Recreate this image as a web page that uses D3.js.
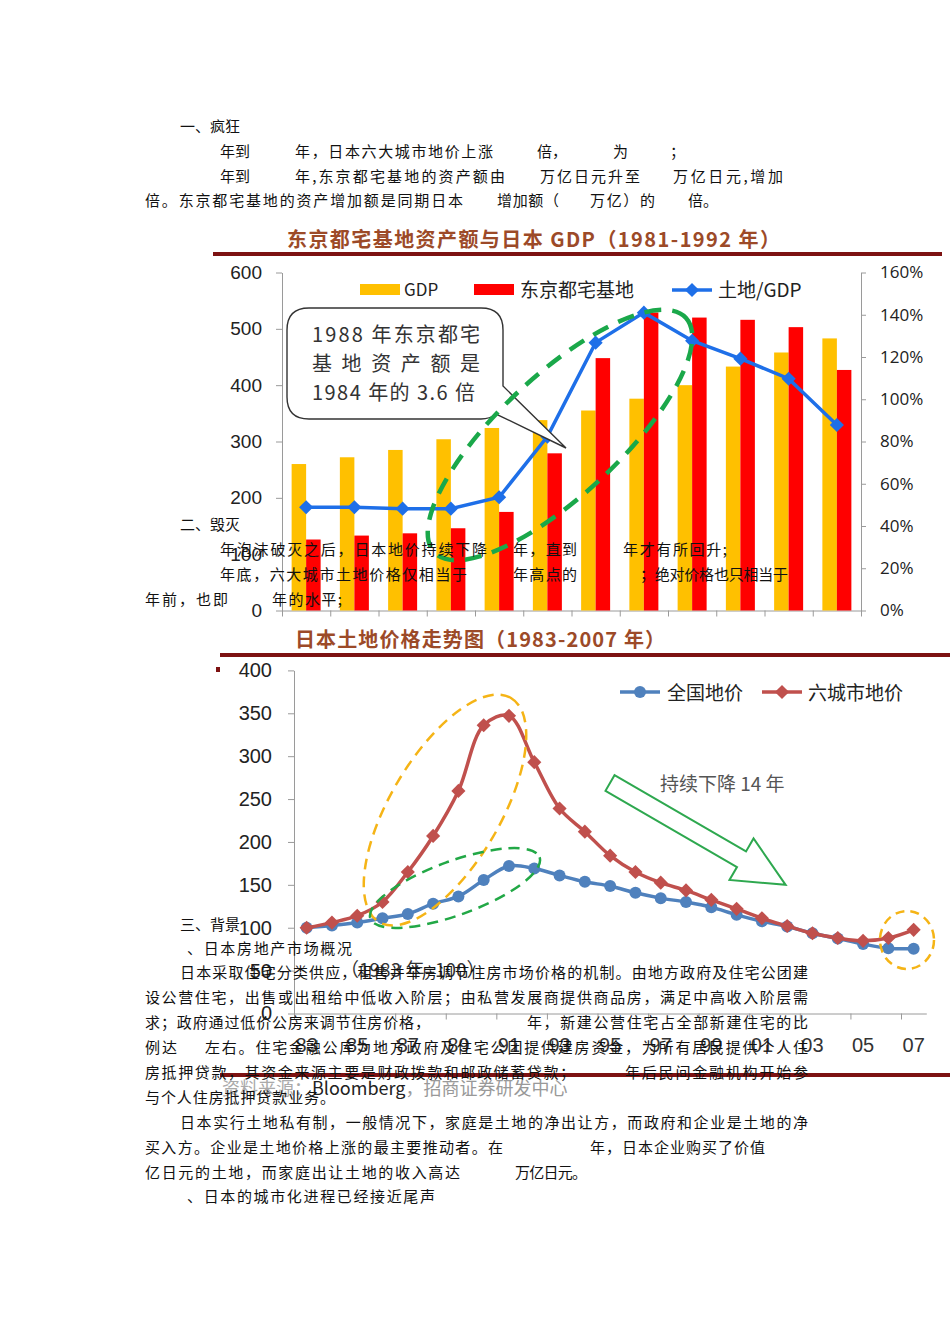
<!DOCTYPE html>
<html>
<head>
<meta charset="utf-8">
<script src="https://cdnjs.cloudflare.com/ajax/libs/d3/7.8.5/d3.min.js"></script>
<style>
  body { margin: 0; background: #fff; }
  svg { display: block; }
  .doc { font-family: "Noto Sans CJK SC", sans-serif; font-size: 15px; fill: #111; }
</style>
</head>
<body>
<div id="page"></div>
<script>
// chart 1 data: 东京都宅基地资产额与日本 GDP (1981-1992)
const years1 = ["1981", "1982", "1983", "1984", "1985", "1986", "1987", "1988", "1989", "1990", "1991", "1992"];
const gdp = [260, 272, 285, 304, 324, 338, 355, 376, 400, 433, 458, 483];
const tokyoLand = [126, 133, 137, 146, 175, 279, 448, 529, 520, 516, 503, 427];
const landGdp = [0.489, 0.489, 0.482, 0.482, 0.536, 0.823, 1.268, 1.41, 1.277, 1.192, 1.097, 0.878];
const leftTicks1 = [0, 100, 200, 300, 400, 500, 600];
const rightTicks1 = [0, 0.2, 0.4, 0.6, 0.8, 1.0, 1.2, 1.4, 1.6];

// chart 2 data: 日本土地价格走势图 (1983-2007), 1983 = 100
const years2 = ["83", "84", "85", "86", "87", "88", "89", "90", "91", "92", "93", "94", "95",
  "96", "97", "98", "99", "00", "01", "02", "03", "04", "05", "06", "07"];
const national = [100, 102.5, 106, 111, 116, 128, 136.5, 155.6, 172, 169, 161, 153.5, 148.6,
  140.7, 134.5, 130, 124, 115, 107.5, 101.5, 93.5, 87.5, 81, 76, 75.5];
const sixCities = [100, 106, 114, 130, 165, 207, 259.5, 336, 347, 293, 239, 212, 184,
  165, 152.5, 143.5, 132.5, 122, 111, 102, 93.5, 88, 84.7, 88, 97.5];
const xLabels2 = ["83", "85", "87", "89", "91", "93", "95", "97", "99", "01", "03", "05", "07"];
const yTicks2 = [0, 50, 100, 150, 200, 250, 300, 350, 400];

const svg = d3.select("#page").append("svg")
  .attr("width", 950)
  .attr("height", 1344);

svg.append("rect").attr("width", 950).attr("height", 1344).attr("fill", "#fff");

const titleColor = "#9c4a28",
  ruleColor = "#7d1212",
  axisColor = "#9a9a9a";

// ---------- chart 1 ----------
let c1 = svg.append("g");

c1.append("text")
  .attr("x", 287).attr("y", 247)
  .attr("textLength", 493)
  .style("font-family", "'Noto Sans CJK SC', sans-serif")
  .style("font-weight", "bold")
  .style("font-size", "20px")
  .attr("fill", titleColor)
  .text("东京都宅基地资产额与日本 GDP（1981-1992 年）");

c1.append("rect")
  .attr("x", 213).attr("y", 252).attr("width", 729).attr("height", 4)
  .attr("fill", ruleColor);

let x1 = d3.scaleBand().domain(years1).range([282, 861]);
let xSub = d3.scaleBand().domain(["gdp", "tokyo"]).range([0, x1.bandwidth()]).paddingOuter(0.664);
let yL = d3.scaleLinear().domain([0, 600]).range([610.5, 272.5]);
let yR = d3.scaleLinear().domain([0, 1.6]).range([610.5, 272.5]);
let xEdge1 = d3.scaleLinear().domain([0, years1.length]).range([282, 861]);

let leftAxis1 = c1.append("g")
  .attr("transform", "translate(282,0)")
  .call(d3.axisLeft(yL).tickValues(leftTicks1).tickSize(6).tickSizeOuter(0).tickPadding(14));
leftAxis1.selectAll("text")
  .style("font-family", "'Liberation Sans', Arial, sans-serif")
  .style("font-size", "19px").attr("fill", "#222");

let rightAxis1 = c1.append("g")
  .attr("transform", "translate(861,0)")
  .call(d3.axisRight(yR).tickValues(rightTicks1).tickFormat(d3.format(".0%")).tickSize(5).tickSizeOuter(0).tickPadding(14));
rightAxis1.selectAll("text")
  .style("font-family", "'Open Sans', 'Noto Sans', sans-serif")
  .style("font-size", "17px").attr("fill", "#222");

let bottomAxis1 = c1.append("g")
  .attr("transform", "translate(0,610.5)")
  .call(d3.axisBottom(xEdge1).ticks(years1.length).tickFormat("").tickSize(6).tickSizeOuter(0));

[leftAxis1, rightAxis1, bottomAxis1].forEach(a => {
  a.selectAll("path, line").attr("stroke", axisColor);
});

c1.selectAll(".gdp-bar")
  .data(gdp)
  .enter().append("rect")
    .classed("gdp-bar", true)
    .attr("x", (d, i) => x1(years1[i]) + xSub("gdp"))
    .attr("y", d => yL(d))
    .attr("width", xSub.bandwidth())
    .attr("height", d => yL(0) - yL(d))
    .attr("fill", "#ffc000");

c1.selectAll(".tokyo-bar")
  .data(tokyoLand)
  .enter().append("rect")
    .classed("tokyo-bar", true)
    .attr("x", (d, i) => x1(years1[i]) + xSub("tokyo"))
    .attr("y", d => yL(d))
    .attr("width", xSub.bandwidth())
    .attr("height", d => yL(0) - yL(d))
    .attr("fill", "#ff0000");

let ratioLine = d3.line()
  .x((d, i) => x1(years1[i]) + x1.bandwidth() / 2)
  .y(d => yR(d));

c1.append("path")
  .datum(landGdp)
  .attr("d", ratioLine)
  .attr("fill", "none")
  .attr("stroke", "#1e6fe8")
  .attr("stroke-width", 3.5);

let diamond = d3.symbol().type(d3.symbolSquare).size(100);

c1.selectAll(".ratio-pt")
  .data(landGdp)
  .enter().append("path")
    .classed("ratio-pt", true)
    .attr("d", diamond)
    .attr("transform", (d, i) => `translate(${x1(years1[i]) + x1.bandwidth() / 2},${yR(d)}) rotate(45)`)
    .attr("fill", "#1e6fe8");

// legend 1
let lg1 = c1.append("g").style("font-family", "'Noto Sans CJK SC', sans-serif").attr("fill", "#222");
lg1.append("rect").attr("x", 360).attr("y", 284).attr("width", 40).attr("height", 11).attr("fill", "#ffc000");
lg1.append("text").attr("x", 404).attr("y", 296).style("font-size", "17px").text("GDP");
lg1.append("rect").attr("x", 474).attr("y", 284).attr("width", 40).attr("height", 11).attr("fill", "#ff0000");
lg1.append("text").attr("x", 520).attr("y", 297).style("font-size", "19px").text("东京都宅基地");
lg1.append("line").attr("x1", 672).attr("x2", 712).attr("y1", 290).attr("y2", 290)
  .attr("stroke", "#1e6fe8").attr("stroke-width", 3.5);
lg1.append("path").attr("d", diamond).attr("transform", "translate(692,290) rotate(45)").attr("fill", "#1e6fe8");
lg1.append("text").attr("x", 718).attr("y", 297).style("font-size", "19px").text("土地/GDP");

// callout bubble
c1.append("path")
  .attr("d", "M309,308 H481 Q503,308 503,330 V386 L566,448 L496,414 Q490,419 481,419 H309 Q287,419 287,397 V330 Q287,308 309,308 Z")
  .attr("fill", "#fff")
  .attr("stroke", "#333")
  .attr("stroke-width", 1.4);

let bubble = c1.append("g")
  .style("font-family", "'Noto Sans CJK SC', sans-serif")
  .style("font-size", "20px")
  .attr("fill", "#333");
bubble.append("text").attr("x", 312).attr("y", 342).attr("textLength", 168).text("1988 年东京都宅");
bubble.append("text").attr("x", 312).attr("y", 371).attr("textLength", 168).text("基地资产额是");
bubble.append("text").attr("x", 312).attr("y", 400).attr("textLength", 163).text("1984 年的 3.6 倍");

c1.append("ellipse")
  .attr("cx", 0).attr("cy", 0).attr("rx", 172).attr("ry", 60)
  .attr("transform", "translate(560,435) rotate(-43)")
  .attr("fill", "none")
  .attr("stroke", "#1aa84a")
  .attr("stroke-width", 4.5)
  .attr("stroke-dasharray", "17 11");

// ---------- chart 2 ----------
let c2 = svg.append("g");

c2.append("text")
  .attr("x", 295).attr("y", 647)
  .attr("textLength", 370)
  .style("font-family", "'Noto Sans CJK SC', sans-serif")
  .style("font-weight", "bold")
  .style("font-size", "20px")
  .attr("fill", titleColor)
  .text("日本土地价格走势图（1983-2007 年）");

c2.append("rect")
  .attr("x", 220).attr("y", 653).attr("width", 730).attr("height", 4)
  .attr("fill", ruleColor);
c2.append("rect").attr("x", 216).attr("y", 667).attr("width", 4).attr("height", 5).attr("fill", ruleColor);

let x2 = d3.scaleBand().domain(years2).range([294, 926.3]);
let y2 = d3.scaleLinear().domain([0, 400]).range([1013.5, 670.4]);
let xEdge2 = d3.scaleLinear().domain([0, years2.length]).range([294, 926.3]);

let leftAxis2 = c2.append("g")
  .attr("transform", "translate(294,0)")
  .call(d3.axisLeft(y2).tickValues(yTicks2).tickSize(6).tickSizeOuter(0).tickPadding(16));
leftAxis2.selectAll("text")
  .style("font-family", "'Liberation Sans Narrow', 'Liberation Sans', sans-serif")
  .style("font-size", "20px").attr("fill", "#222");

let edgeAxis2 = c2.append("g")
  .attr("transform", "translate(0,1013.5)")
  .call(d3.axisBottom(xEdge2).tickValues(d3.range(0, 25, 2)).tickFormat("").tickSize(6).tickSizeOuter(0));

let labelAxis2 = c2.append("g")
  .attr("transform", "translate(0,1013.5)")
  .call(d3.axisBottom(x2).tickValues(xLabels2).tickSize(0).tickPadding(24));
labelAxis2.select(".domain").remove();
labelAxis2.selectAll("text")
  .style("font-family", "'Liberation Sans Narrow', 'Liberation Sans', sans-serif")
  .style("font-size", "20px").attr("fill", "#333");

[leftAxis2, edgeAxis2].forEach(a => {
  a.selectAll("path, line").attr("stroke", axisColor);
});

let priceLine = d3.line()
  .x((d, i) => x2(years2[i]) + x2.bandwidth() / 2)
  .y(d => y2(d))
  .curve(d3.curveCatmullRom.alpha(0.5));

c2.append("path")
  .datum(national)
  .attr("d", priceLine)
  .attr("fill", "none")
  .attr("stroke", "#4f81bd")
  .attr("stroke-width", 3.5);

c2.selectAll(".nat-pt")
  .data(national)
  .enter().append("circle")
    .classed("nat-pt", true)
    .attr("cx", (d, i) => x2(years2[i]) + x2.bandwidth() / 2)
    .attr("cy", d => y2(d))
    .attr("r", 6)
    .attr("fill", "#4f81bd");

c2.append("path")
  .datum(sixCities)
  .attr("d", priceLine)
  .attr("fill", "none")
  .attr("stroke", "#c0504d")
  .attr("stroke-width", 3.5);

c2.selectAll(".six-pt")
  .data(sixCities)
  .enter().append("path")
    .classed("six-pt", true)
    .attr("d", diamond)
    .attr("transform", (d, i) => `translate(${x2(years2[i]) + x2.bandwidth() / 2},${y2(d)}) rotate(45)`)
    .attr("fill", "#c0504d");

// legend 2
let lg2 = c2.append("g").style("font-family", "'Noto Sans CJK SC', sans-serif").style("font-size", "19px").attr("fill", "#222");
lg2.append("line").attr("x1", 620).attr("x2", 660).attr("y1", 692).attr("y2", 692)
  .attr("stroke", "#4f81bd").attr("stroke-width", 3.5);
lg2.append("circle").attr("cx", 640).attr("cy", 692).attr("r", 6).attr("fill", "#4f81bd");
lg2.append("text").attr("x", 667).attr("y", 700).text("全国地价");
lg2.append("line").attr("x1", 762).attr("x2", 802).attr("y1", 692).attr("y2", 692)
  .attr("stroke", "#c0504d").attr("stroke-width", 3.5);
lg2.append("path").attr("d", diamond).attr("transform", "translate(782,692) rotate(45)").attr("fill", "#c0504d");
lg2.append("text").attr("x", 808).attr("y", 700).text("六城市地价");

// annotations
c2.append("ellipse")
  .attr("rx", 130).attr("ry", 55)
  .attr("transform", "translate(445,810) rotate(-59.5)")
  .attr("fill", "none").attr("stroke", "#f5b416").attr("stroke-width", 2.5)
  .attr("stroke-dasharray", "11 7");

c2.append("ellipse")
  .attr("rx", 90).attr("ry", 27)
  .attr("transform", "translate(455,888) rotate(-20)")
  .attr("fill", "none").attr("stroke", "#22a846").attr("stroke-width", 2.5)
  .attr("stroke-dasharray", "11 7");

c2.append("ellipse")
  .attr("rx", 27).attr("ry", 29)
  .attr("transform", "translate(907,940)")
  .attr("fill", "none").attr("stroke", "#f5b416").attr("stroke-width", 2.5)
  .attr("stroke-dasharray", "9 6");

c2.append("path")
  .attr("d", "M0,-9 H152 V-24 L203,0 L152,24 V9 H0 Z")
  .attr("transform", "translate(610,783) rotate(30.1)")
  .attr("fill", "#fff")
  .attr("stroke", "#2ea84f")
  .attr("stroke-width", 2);

c2.append("text")
  .attr("x", 660).attr("y", 791)
  .style("font-family", "'Noto Sans CJK SC', sans-serif")
  .style("font-size", "19px")
  .attr("fill", "#555")
  .text("持续下降 14 年");

c2.append("text")
  .attr("x", 340).attr("y", 977)
  .style("font-family", "'Noto Sans CJK SC', sans-serif")
  .style("font-size", "19px")
  .attr("fill", "#333")
  .text("（1983 年=100）");

c2.append("rect")
  .attr("x", 220).attr("y", 1073).attr("width", 730).attr("height", 4)
  .attr("fill", ruleColor);

let src = c2.append("text")
  .attr("x", 222).attr("y", 1095)
  .style("font-family", "'Noto Sans CJK SC', sans-serif")
  .style("font-size", "18px");
src.append("tspan").attr("fill", "#aaa").text("资料来源：");
src.append("tspan").attr("fill", "#222").text("Bloomberg");
src.append("tspan").attr("fill", "#999").text("，招商证券研发中心");

// ---------- document text laid over the charts ----------
// [x, baseline, text, width]
const docLines = [
  [180, 132, "一、疯狂", 0],
  [220, 157, "年到", 0], [295, 157, "年，日本六大城市地价上涨", 198], [537, 157, "倍，", 0], [613, 157, "为", 0], [670, 157, "；", 0],
  [220, 182, "年到", 0], [295, 182, "年,东京都宅基地的资产额由", 210], [540, 182, "万亿日元升至", 100], [673, 182, "万亿日元,增加", 110],
  [145, 206, "倍。东京都宅基地的资产增加额是同期日本", 318], [497, 206, "增加额（", 62], [590, 206, "万亿）的", 65], [688, 206, "倍。", 0],
  [180, 530, "二、毁灭", 0],
  [220, 555, "年泡沫破灭之后，日本地价持续下降", 267], [513, 555, "年，直到", 64], [623, 555, "年才有所回升;", 104],
  [220, 580, "年底，六大城市土地价格仅相当于", 247], [513, 580, "年高点的", 64], [640, 580, "；绝对价格也只相当于", 148],
  [145, 605, "年前，也即", 83], [272, 605, "年的水平;", 70],
  [180, 930, "三、背景", 0],
  [187, 954, "、日本房地产市场概况", 165],
  [180, 978, "日本采取住宅分类供应，租售并举房调节住房市场价格的机制。由地方政府及住宅公团建", 628],
  [145, 1003, "设公营住宅，出售或出租给中低收入阶层；由私营发展商提供商品房，满足中高收入阶层需", 663],
  [145, 1028, "求；政府通过低价公房来调节住房价格，", 285], [527, 1028, "年，新建公营住宅占全部新建住宅的比", 281],
  [145, 1053, "例达", 32], [205, 1053, "左右。住宅金融公库为地方政府及住宅公团提供建房资金，为所有居民提供个人住", 603],
  [145, 1078, "房抵押贷款，其资金来源主要是财政拨款和邮政储蓄贷款；", 430], [625, 1078, "年后民间金融机构开始参", 183],
  [145, 1103, "与个人住房抵押贷款业务。", 190],
  [180, 1128, "日本实行土地私有制，一般情况下，家庭是土地的净出让方，而政府和企业是土地的净", 628],
  [145, 1153, "买入方。企业是土地价格上涨的最主要推动者。在", 358], [590, 1153, "年，日本企业购买了价值", 175],
  [145, 1178, "亿日元的土地，而家庭出让土地的收入高达", 315], [515, 1178, "万亿日元。", 72],
  [187, 1202, "、日本的城市化进程已经接近尾声", 248]
];

svg.append("g").selectAll("text")
  .data(docLines)
  .enter().append("text")
    .attr("class", "doc")
    .attr("x", d => d[0])
    .attr("y", d => d[1])
    .attr("textLength", d => d[3] > 0 ? d[3] : null)
    .attr("lengthAdjust", "spacing")
    .text(d => d[2]);
</script>
</body>
</html>
